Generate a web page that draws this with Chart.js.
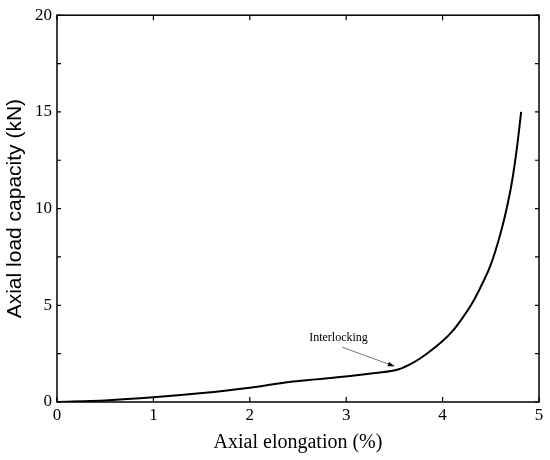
<!DOCTYPE html>
<html>
<head>
<meta charset="utf-8">
<script src="https://cdn.jsdelivr.net/npm/chart.js@4"></script>
<style>
  html, body { margin: 0; padding: 0; background: #fff; }
  #wrap { width: 550px; height: 460px; }
</style>
</head>
<body>
<div id="wrap"><canvas id="loadChart"></canvas></div>
<script>
// values
const elongation = [0, 0.5, 1.0, 1.48, 2.0, 2.41, 2.69, 3.04, 3.3, 3.537, 3.70, 3.85, 4.0, 4.1, 4.2, 4.3, 4.4, 4.5, 4.6, 4.66, 4.72, 4.77, 4.815];
const load = [0, 0.08, 0.24, 0.45, 0.74, 1.04, 1.17, 1.34, 1.5, 1.68, 2.05, 2.55, 3.15, 3.65, 4.3, 5.05, 6.0, 7.1, 8.7, 9.9, 11.4, 13.1, 15.0];

const xTicks = [0, 1, 2, 3, 4, 5];
const yTicks = [0, 2.5, 5, 7.5, 10, 12.5, 15, 17.5, 20];

// annotation: label position, arrow start, arrow tip (data units)
const noteText = 'Interlocking';
const noteLabel = [2.92, 3.34];
const noteArrow = [2.96, 2.83, 3.50, 1.85];

const frame = {
    id: 'frame',
    afterDatasetsDraw(chart) {
        const ctx = chart.ctx;
        const a = chart.chartArea;
        const xs = chart.scales.x, ys = chart.scales.y;
        ctx.save();
        ctx.strokeStyle = '#000';
        ctx.lineWidth = 1.5;
        ctx.strokeRect(a.left, a.top, a.right - a.left, a.bottom - a.top);
        ctx.lineWidth = 1.2;
        ctx.beginPath();
        xTicks.forEach(v => {
            const px = xs.getPixelForValue(v);
            ctx.moveTo(px, a.bottom); ctx.lineTo(px, a.bottom - 5);
            ctx.moveTo(px, a.top); ctx.lineTo(px, a.top + 5);
        });
        yTicks.forEach(v => {
            const py = ys.getPixelForValue(v);
            ctx.moveTo(a.left, py); ctx.lineTo(a.left + 4, py);
            ctx.moveTo(a.right, py); ctx.lineTo(a.right - 4, py);
        });
        ctx.stroke();

        // annotation
        ctx.fillStyle = '#000';
        ctx.font = '12px "Liberation Serif"';
        ctx.textAlign = 'center';
        ctx.textBaseline = 'middle';
        ctx.fillText(noteText, xs.getPixelForValue(noteLabel[0]), ys.getPixelForValue(noteLabel[1]));
        const x1 = xs.getPixelForValue(noteArrow[0]), y1 = ys.getPixelForValue(noteArrow[1]);
        const x2 = xs.getPixelForValue(noteArrow[2]), y2 = ys.getPixelForValue(noteArrow[3]);
        ctx.strokeStyle = '#555';
        ctx.lineWidth = 0.8;
        ctx.beginPath();
        ctx.moveTo(x1, y1); ctx.lineTo(x2, y2);
        ctx.stroke();
        const ang = Math.atan2(y2 - y1, x2 - x1);
        ctx.fillStyle = '#000';
        ctx.beginPath();
        ctx.moveTo(x2, y2);
        ctx.lineTo(x2 - 7 * Math.cos(ang - 0.35), y2 - 7 * Math.sin(ang - 0.35));
        ctx.lineTo(x2 - 7 * Math.cos(ang + 0.35), y2 - 7 * Math.sin(ang + 0.35));
        ctx.closePath();
        ctx.fill();
        ctx.restore();
    }
};

const ctx = document.getElementById('loadChart').getContext('2d');
new Chart(ctx, {
    type: 'line',
    data: {
        datasets: [{
            data: elongation.map((x, i) => ({ x: x, y: load[i] })),
            borderColor: '#000',
            borderWidth: 2,
            pointRadius: 0,
            cubicInterpolationMode: 'monotone',
            fill: false
        }]
    },
    options: {
        responsive: true,
        maintainAspectRatio: false,
        animation: false,
        layout: { padding: { top: 13, right: 11, left: 0, bottom: 0 } },
        plugins: { legend: { display: false }, tooltip: { enabled: false } },
        scales: {
            x: {
                type: 'linear',
                min: 0,
                max: 5,
                afterFit: s => { s.height = 58; },
                afterBuildTicks: s => { s.ticks = xTicks.map(v => ({ value: v })); },
                grid: { display: false, drawTicks: false },
                border: { display: false },
                ticks: {
                    color: '#000',
                    padding: 3,
                    font: { family: '"Liberation Serif"', size: 17 }
                },
                title: {
                    display: true,
                    text: 'Axial elongation (%)',
                    color: '#000',
                    padding: { top: 0, bottom: 5 },
                    font: { family: '"Liberation Serif"', size: 20 }
                }
            },
            y: {
                type: 'linear',
                min: 0,
                max: 20,
                afterFit: s => { s.width = 57; },
                afterBuildTicks: s => { s.ticks = yTicks.map(v => ({ value: v })); },
                grid: { display: false, drawTicks: false },
                border: { display: false },
                ticks: {
                    color: '#000',
                    padding: 5,
                    font: { family: '"Liberation Serif"', size: 17 },
                    callback: v => (v % 5 === 0 ? v : '')
                },
                title: {
                    display: true,
                    text: 'Axial load capacity (kN)',
                    color: '#000',
                    padding: { top: 3, bottom: 0 },
                    font: { family: '"Liberation Sans"', size: 21 }
                }
            }
        }
    },
    plugins: [frame]
});
</script>
</body>
</html>
